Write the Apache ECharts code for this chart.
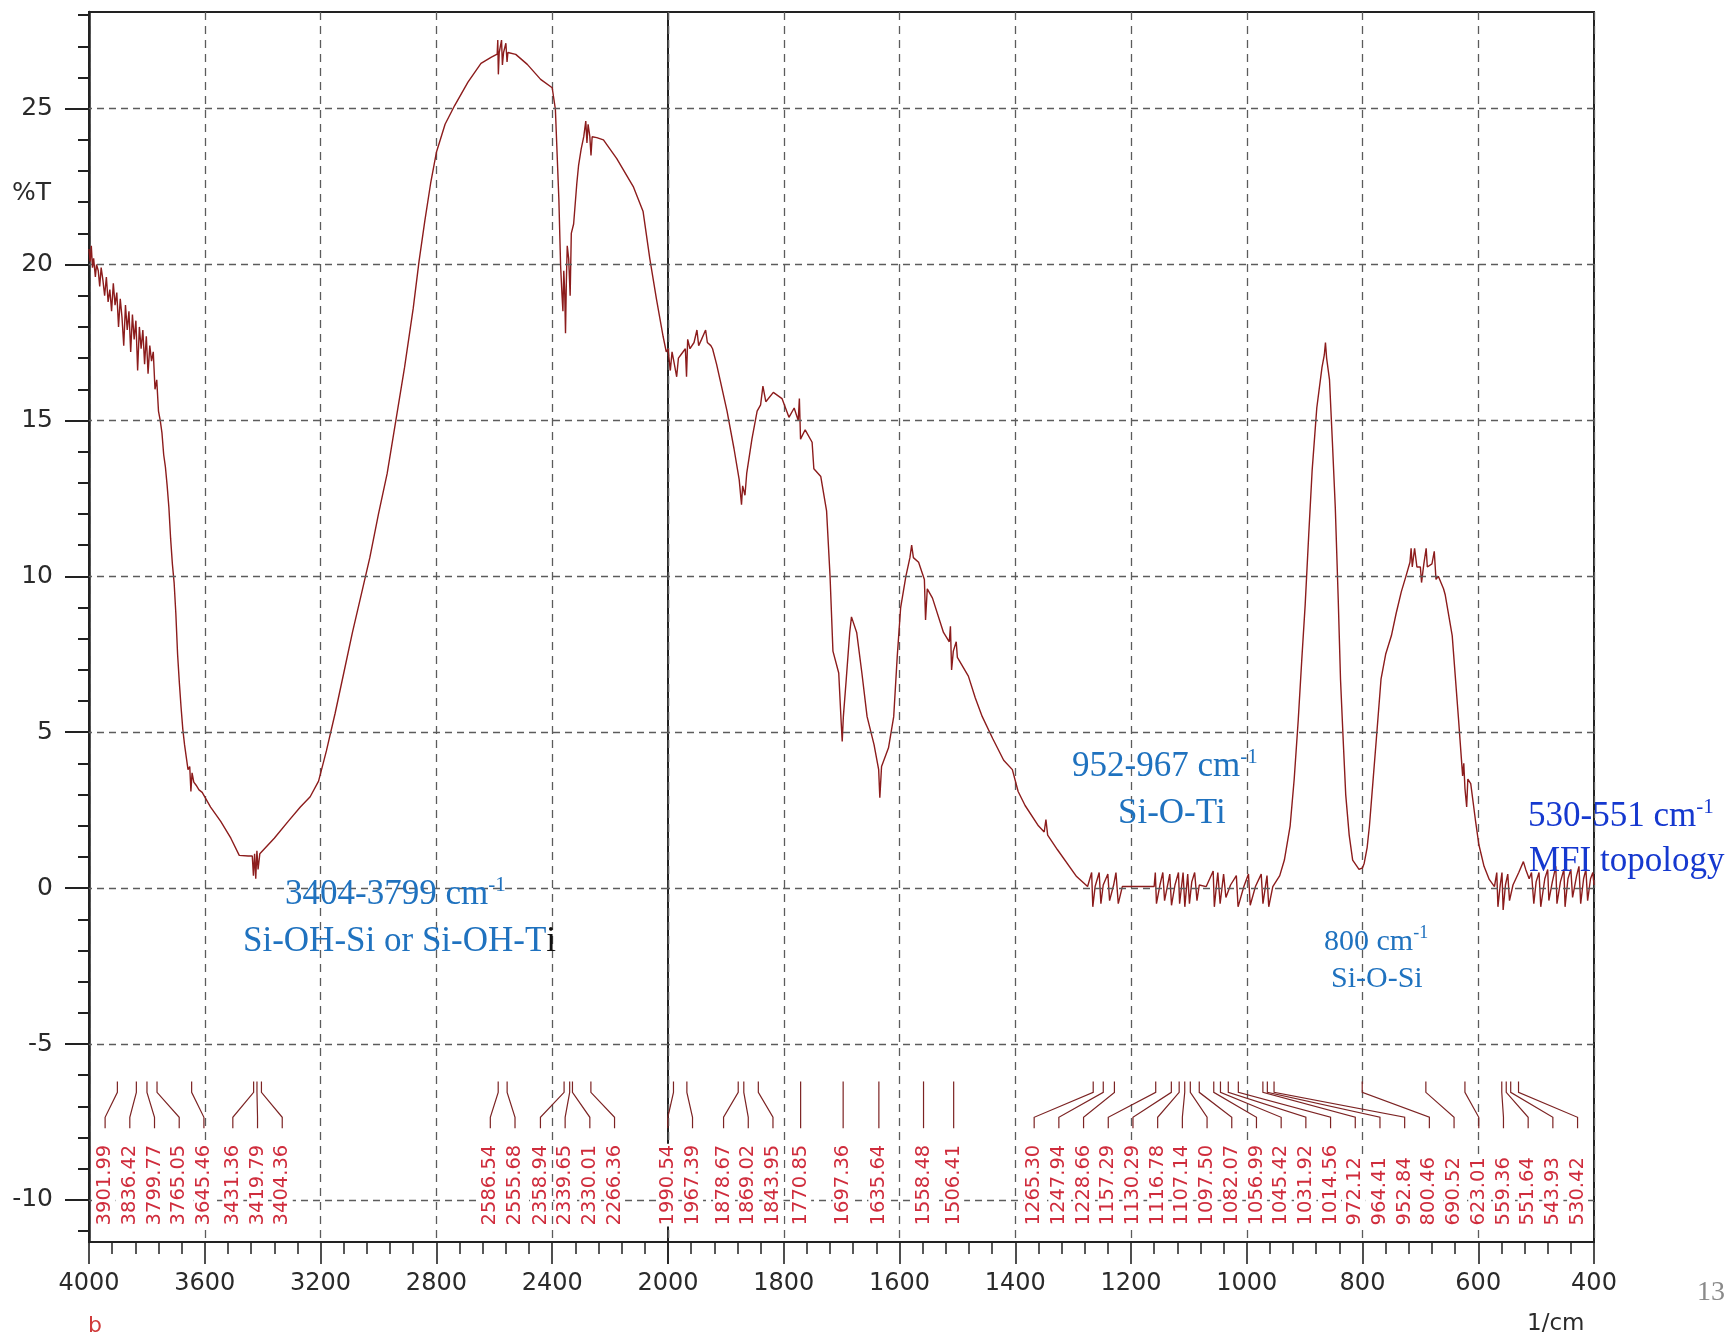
<!DOCTYPE html>
<html>
<head>
<meta charset="utf-8">
<script src="https://cdn.jsdelivr.net/npm/echarts@6/dist/echarts.min.js"></script>
<style>
  html, body { margin: 0; padding: 0; background: #ffffff; }
  #chart { width: 1736px; height: 1338px; }
</style>
</head>
<body>
<div id="chart"></div>
<script>
// FTIR transmittance spectrum, [wavenumber (1/cm), %T], high to low wavenumber
const SPECTRUM = [
  [4000, 20.5], [3996, 20.1], [3992, 20.6], [3988, 19.9], [3984, 20.2], [3978, 19.6], [3974, 20.0],
  [3968, 19.8], [3963, 19.3], [3958, 19.9], [3952, 19.5], [3946, 19.0], [3940, 19.6], [3934, 18.8],
  [3928, 19.2], [3922, 18.5], [3916, 19.4], [3910, 18.7], [3904, 19.1], [3898, 18.0], [3892, 18.9],
  [3886, 18.3], [3880, 17.4], [3874, 18.7], [3868, 17.9], [3862, 18.5], [3856, 17.2], [3850, 18.4],
  [3844, 17.6], [3838, 18.2], [3832, 16.6], [3826, 18.0], [3820, 17.3], [3814, 17.9], [3808, 16.8],
  [3802, 17.7], [3796, 16.5], [3790, 17.4], [3784, 16.9], [3778, 17.2], [3772, 16.0], [3766, 16.3],
  [3760, 15.3], [3754, 15.0], [3748, 14.6], [3742, 13.9], [3736, 13.5], [3730, 12.9], [3724, 12.2],
  [3718, 11.2], [3712, 10.4], [3706, 9.8], [3700, 8.8], [3694, 7.5], [3688, 6.6], [3682, 5.8],
  [3676, 5.1], [3670, 4.6], [3664, 4.2], [3658, 3.8], [3652, 3.9], [3648, 3.1], [3644, 3.7],
  [3638, 3.4], [3630, 3.3], [3620, 3.15], [3609, 3.07], [3580, 2.6], [3545, 2.14], [3510, 1.6],
  [3481, 1.05], [3450, 1.03], [3436, 1.03], [3432, 0.4], [3428, 1.1], [3424, 0.3], [3420, 1.2],
  [3416, 0.6], [3410, 1.1], [3405, 1.14], [3360, 1.6], [3312, 2.14], [3270, 2.6], [3236, 2.93],
  [3207, 3.43], [3180, 4.4], [3150, 5.6], [3120, 6.9], [3090, 8.2], [3060, 9.4], [3030, 10.6],
  [3000, 12.0], [2970, 13.3], [2940, 15.0], [2910, 16.7], [2880, 18.6], [2860, 20.1], [2840, 21.4],
  [2820, 22.6], [2800, 23.6], [2770, 24.5], [2737, 25.1], [2691, 25.85], [2646, 26.45], [2610, 26.65],
  [2590, 26.75], [2588, 27.2], [2586, 26.1], [2583, 26.8], [2575, 27.2], [2572, 26.4], [2568, 26.8],
  [2560, 27.1], [2556, 26.5], [2553, 26.8], [2526, 26.74], [2486, 26.42], [2440, 25.94], [2400, 25.67],
  [2389, 24.98], [2377, 22.1], [2371, 19.97], [2366, 19.0], [2363, 18.5], [2360, 19.8], [2357, 19.2],
  [2354, 17.8], [2351, 19.5], [2348, 20.6], [2343, 20.18], [2338, 19.0], [2334, 21.0], [2326, 21.3],
  [2315, 22.6], [2309, 23.17], [2300, 23.7], [2291, 24.1], [2284, 24.6], [2280, 23.9], [2276, 24.5],
  [2270, 24.1], [2266, 23.5], [2262, 24.1], [2246, 24.07], [2223, 24.0], [2177, 23.4], [2120, 22.5],
  [2086, 21.7], [2063, 20.2], [2040, 18.9], [2017, 17.7], [2006, 17.2], [2000, 17.3],
  [1996, 16.6], [1993, 17.2], [1990, 16.9], [1985, 16.4], [1982, 17.0], [1978, 17.1], [1970, 17.3],
  [1968, 16.4], [1966, 17.6], [1962, 17.3], [1955, 17.5], [1950, 17.9], [1947, 17.4], [1942, 17.6],
  [1935, 17.9], [1932, 17.5], [1926, 17.4], [1923, 17.3], [1916, 16.8], [1910, 16.3], [1898, 15.3],
  [1886, 14.1], [1877, 13.1], [1873, 12.3], [1871, 12.9], [1867, 12.6], [1864, 13.3], [1855, 14.4],
  [1846, 15.3], [1840, 15.5], [1836, 16.1], [1831, 15.6], [1818, 15.9], [1803, 15.7], [1791, 15.1],
  [1782, 15.4], [1775, 15.0], [1773, 15.7], [1771, 14.4], [1763, 14.7], [1751, 14.3], [1748, 13.45],
  [1736, 13.2], [1726, 12.1], [1720, 10.0], [1715, 7.6], [1705, 6.9], [1701, 5.4], [1699, 4.7],
  [1697, 5.5], [1692, 6.7], [1686, 8.2], [1683, 8.7], [1674, 8.2], [1665, 6.9], [1656, 5.5],
  [1644, 4.6], [1636, 3.8], [1634, 2.9], [1631, 3.9], [1619, 4.5], [1610, 5.5], [1604, 7.4],
  [1598, 9.0], [1589, 10.0], [1582, 10.6], [1579, 11.0], [1576, 10.6], [1567, 10.45], [1557, 9.9],
  [1555, 8.6], [1552, 9.6], [1543, 9.3], [1524, 8.2], [1514, 7.9], [1512, 8.4], [1510, 7.0],
  [1507, 7.6], [1502, 7.9], [1500, 7.4], [1481, 6.8], [1469, 6.1], [1457, 5.5], [1439, 4.8],
  [1420, 4.1], [1405, 3.8], [1395, 3.1], [1383, 2.65], [1360, 2.0], [1350, 1.8], [1347, 2.2],
  [1344, 1.7], [1327, 1.23], [1294, 0.37], [1275, 0.05], [1268, 0.5], [1266, -0.6], [1262, 0.05],
  [1255, 0.5], [1252, -0.5], [1248, 0.1], [1240, 0.45], [1237, -0.4], [1230, 0.1], [1226, 0.5],
  [1222, -0.5], [1215, 0.05], [1190, 0.05], [1160, 0.05], [1158, 0.5], [1156, -0.5], [1150, 0.1],
  [1145, 0.5], [1142, -0.4], [1133, 0.45], [1130, -0.55], [1124, 0.1], [1118, 0.5], [1116, -0.5],
  [1110, 0.5], [1107, -0.6], [1102, 0.45], [1099, -0.5], [1095, 0.2], [1090, 0.5], [1086, -0.4],
  [1082, 0.1], [1070, 0.05], [1058, 0.55], [1056, -0.6], [1050, 0.5], [1046, -0.5], [1040, 0.45],
  [1036, -0.3], [1028, 0.1], [1018, 0.4], [1015, -0.6], [1005, 0.05], [997, 0.45], [994, -0.55],
  [985, 0.05], [975, 0.45], [972, -0.5], [965, 0.4], [962, -0.6], [955, 0.05], [943, 0.4],
  [935, 0.9], [925, 2.0], [918, 3.5], [911, 5.4], [905, 7.3], [899, 9.1], [893, 11.3], [887, 13.4],
  [879, 15.4], [870, 16.7], [866, 17.1], [864, 17.5], [862, 17.0], [857, 16.3], [852, 14.3],
  [847, 12.2], [842, 9.3], [838, 6.7], [833, 4.6], [829, 3.0], [823, 1.7], [817, 0.9], [806, 0.6],
  [800, 0.65], [797, 0.8], [792, 1.3], [788, 2.0], [782, 3.4], [776, 4.8], [768, 6.7], [760, 7.5],
  [750, 8.1], [742, 8.8], [733, 9.5], [725, 10.0], [718, 10.45], [716, 10.9], [714, 10.3],
  [710, 10.9], [706, 10.3], [700, 10.3], [698, 9.8], [694, 10.4], [690, 10.9], [688, 10.3],
  [680, 10.4], [676, 10.8], [673, 9.9], [669, 10.0], [660, 9.6], [657, 9.4], [645, 8.1], [634, 5.4],
  [627, 3.6], [625, 4.0], [623, 3.2], [620, 2.6], [618, 3.5], [613, 3.35], [605, 2.2], [599, 1.4],
  [590, 0.7], [581, 0.28], [572, 0.05], [568, 0.5], [566, -0.6], [562, 0.1], [559, 0.5],
  [557, -0.7], [553, 0.1], [549, 0.45], [546, -0.4], [540, 0.1], [530, 0.5], [522, 0.85],
  [518, 0.6], [512, 0.3], [508, 0.5], [504, -0.5], [500, 0.2], [495, 0.5], [492, -0.6], [485, 0.3],
  [480, 0.6], [478, -0.4], [472, 0.2], [466, 0.7], [464, -0.5], [458, 0.2], [452, 0.6], [450, -0.6],
  [445, 0.3], [440, 0.6], [437, -0.3], [430, 0.4], [426, 0.7], [423, -0.5], [418, 0.3], [414, 0.6],
  [411, -0.4], [406, 0.3], [402, 0.5], [400, 0.1]
];

// Peak-pick table printed under the spectrum
const PEAKS = [
  '3901.99', '3836.42', '3799.77', '3765.05', '3645.46', '3431.36', '3419.79', '3404.36',
  '2586.54', '2555.68', '2358.94', '2339.65', '2330.01', '2266.36',
  '1990.54', '1967.39', '1878.67', '1869.02', '1843.95', '1770.85', '1697.36', '1635.64',
  '1558.48', '1506.41', '1265.30', '1247.94', '1228.66', '1157.29', '1130.29', '1116.78',
  '1107.14', '1097.50', '1082.07', '1056.99', '1045.42', '1031.92', '1014.56', '972.12',
  '964.41', '952.84', '800.46', '690.52', '623.01', '559.36', '551.64', '543.93', '530.42'
];

const Y_TICKS = [-10, -5, 0, 5, 10, 15, 20, 25];
const Y_RANGE = [-11.35, 28.1];
const X_RANGE_HIGH = [2000, 4000];
const X_RANGE_LOW = [400, 2000];

// Band assignments written onto the plot
const NOTES = [
  { range: '3404-3799 cm', label: 'Si-OH-Si or Si-OH-T', tail: 'i' },
  { range: '952-967 cm', label: 'Si-O-Ti' },
  { range: '800 cm', label: 'Si-O-Si' },
  { range: '530-551 cm', label: 'MFI topology' }
];

const minorY = [];
for (let v = Math.ceil(Y_RANGE[0]); v <= Math.floor(Y_RANGE[1]); v++) {
  if (v % 5 !== 0) minorY.push(v);
}

const AXIS_COLOR = '#222';
const GRID_DASH = { type: [7, 5], color: '#5c5c5c', width: 1.3 };
const LABEL_GAP = 24.7;
const LEAD = [-6.2, -6.55, -7.35, -7.7];
const LABEL_BASE = -10.85;

// Spread peak labels so they never overlap: clusters are centred on their peaks
function spreadLabels(xs) {
  const order = xs.map((x, i) => i).sort((a, b) => xs[a] - xs[b]);
  let clusters = order.map(i => ({ idx: [i], lo: xs[i], hi: xs[i] }));
  const place = c => { c.start = (c.lo + c.hi) / 2 - (c.idx.length - 1) * LABEL_GAP / 2; };
  clusters.forEach(place);
  let changed = true;
  while (changed) {
    changed = false;
    for (let k = 0; k < clusters.length - 1; k++) {
      const a = clusters[k], b = clusters[k + 1];
      if (a.start + a.idx.length * LABEL_GAP > b.start) {
        const c = { idx: a.idx.concat(b.idx), lo: Math.min(a.lo, b.lo), hi: Math.max(a.hi, b.hi) };
        place(c);
        clusters.splice(k, 2, c);
        changed = true;
        break;
      }
    }
  }
  const pos = [];
  clusters.forEach(c => c.idx.forEach((i, k) => { pos[i] = c.start + k * LABEL_GAP; }));
  return pos;
}

function peakRenderer(list) {
  return function (params, api) {
    const ctx = params.context;
    if (!ctx.pos) {
      ctx.pos = spreadLabels(list.map(p => api.coord([parseFloat(p), 0])[0]));
    }
    const i = params.dataIndex;
    const wn = api.value(0);
    const px = api.coord([wn, 0])[0];
    const lx = ctx.pos[i];
    const y = LEAD.map(v => api.coord([wn, v])[1]);
    const yText = api.coord([wn, LABEL_BASE])[1];
    return {
      type: 'group',
      children: [
        {
          type: 'polyline',
          shape: { points: [[px, y[0]], [px, y[1]], [lx, y[2]], [lx, y[3]]] },
          style: { stroke: '#7c2323', lineWidth: 1.2, fill: null }
        },
        {
          type: 'text',
          x: lx, y: yText,
          rotation: Math.PI / 2,
          style: {
            text: list[i],
            fontFamily: 'DejaVu Sans', fontSize: 19.5,
            fill: '#cf2c3c',
            align: 'left', verticalAlign: 'middle',
            backgroundColor: '#ffffff',
            padding: [1, 1, 0, 1]
          }
        }
      ]
    };
  };
}

const highPeaks = PEAKS.filter(p => parseFloat(p) >= 2000);
const lowPeaks = PEAKS.filter(p => parseFloat(p) < 2000);

function gridMarkLines() {
  return {
    silent: true,
    symbol: ['none', 'none'],
    label: { show: false },
    lineStyle: GRID_DASH,
    emphasis: { disabled: true },
    data: Y_TICKS.map(v => ({ yAxis: v }))
  };
}

function xAxis(gridIndex, range, interval, hideMax) {
  return {
    type: 'value', gridIndex, inverse: true,
    min: range[0], max: range[1], interval,
    axisLine: { show: true, onZero: false, lineStyle: { color: AXIS_COLOR, width: 2 } },
    axisTick: { show: true, length: 22, lineStyle: { color: AXIS_COLOR, width: 1.6 } },
    minorTick: { show: true, splitNumber: 5, length: 12, lineStyle: { color: AXIS_COLOR, width: 1.5 } },
    axisLabel: {
      margin: 30, fontFamily: 'DejaVu Sans', fontSize: 24, color: '#2a2a2a',
      showMaxLabel: !hideMax, showMinLabel: true,
      formatter: v => String(v)
    },
    splitLine: { show: true, lineStyle: { type: [8, 6], color: '#5c5c5c', width: 1.3 } },
    minorSplitLine: { show: false }
  };
}

const chart = echarts.init(document.getElementById('chart'), null, { renderer: 'canvas' });

const serif = '"Liberation Serif", "Times New Roman", serif';
const blue = '#1f72bf';
const deepBlue = '#1538cf';
function noteText(x, y, main, size, color) {
  return {
    type: 'text', x, y, z: 100,
    style: {
      text: '{n|' + main + '}{s|-1}',
      align: 'left', verticalAlign: 'middle',
      rich: {
        n: { fontFamily: serif, fontSize: size, lineHeight: size + 6, fill: color, color: color },
        s: { fontFamily: serif, fontSize: Math.round(size * 0.6), lineHeight: Math.round(size * 0.6),
             verticalAlign: 'top', fill: color, color: color }
      }
    }
  };
}
function plainText(x, y, text, size, color, family) {
  return {
    type: 'text', x, y, z: 100,
    style: { text, fontFamily: family || serif, fontSize: size, fill: color, align: 'left', verticalAlign: 'middle' }
  };
}

chart.setOption({
  animation: false,
  backgroundColor: '#ffffff',
  grid: [
    { left: 89, top: 12, width: 579, height: 1230, show: true, borderColor: AXIS_COLOR, borderWidth: 2, backgroundColor: 'transparent' },
    { left: 668, top: 12, width: 926, height: 1230, show: true, borderColor: AXIS_COLOR, borderWidth: 2, backgroundColor: 'transparent' }
  ],
  xAxis: [
    xAxis(0, X_RANGE_HIGH, 400, false),
    xAxis(1, X_RANGE_LOW, 200, true)
  ],
  yAxis: [
    {
      type: 'value', gridIndex: 0, min: Y_RANGE[0], max: Y_RANGE[1], position: 'left',
      axisLine: { show: true, onZero: false, lineStyle: { color: AXIS_COLOR, width: 2.5 } },
      axisTick: { show: true, length: 24, customValues: Y_TICKS, lineStyle: { color: AXIS_COLOR, width: 2 } },
      axisLabel: { show: true, customValues: Y_TICKS, margin: 36, fontFamily: 'DejaVu Sans', fontSize: 25, color: '#2a2a2a' },
      splitLine: { show: false }
    },
    {
      type: 'value', gridIndex: 0, min: Y_RANGE[0], max: Y_RANGE[1], position: 'left',
      axisLine: { show: false },
      axisTick: { show: true, length: 11, customValues: minorY, lineStyle: { color: AXIS_COLOR, width: 2 } },
      axisLabel: { show: false },
      splitLine: { show: false }
    },
    {
      type: 'value', gridIndex: 1, min: Y_RANGE[0], max: Y_RANGE[1],
      axisLine: { show: false }, axisTick: { show: false }, axisLabel: { show: false },
      splitLine: { show: false }
    }
  ],
  series: [
    {
      type: 'line', xAxisIndex: 0, yAxisIndex: 0, z: 3,
      data: SPECTRUM.filter(d => d[0] >= 2000),
      showSymbol: false, symbol: 'none', clip: true,
      lineStyle: { color: '#8c1c1c', width: 1.4 },
      emphasis: { disabled: true },
      markLine: gridMarkLines()
    },
    {
      type: 'line', xAxisIndex: 1, yAxisIndex: 2, z: 3,
      data: SPECTRUM.filter(d => d[0] <= 2000),
      showSymbol: false, symbol: 'none', clip: true,
      lineStyle: { color: '#8c1c1c', width: 1.4 },
      emphasis: { disabled: true },
      markLine: gridMarkLines()
    },
    {
      type: 'custom', xAxisIndex: 0, yAxisIndex: 0, z: 5, silent: true, clip: false,
      data: highPeaks.map(p => [parseFloat(p)]),
      encode: { x: 0 },
      renderItem: peakRenderer(highPeaks)
    },
    {
      type: 'custom', xAxisIndex: 1, yAxisIndex: 2, z: 5, silent: true, clip: false,
      data: lowPeaks.map(p => [parseFloat(p)]),
      encode: { x: 0 },
      renderItem: peakRenderer(lowPeaks)
    }
  ],
  graphic: [
    plainText(12, 193, '%T', 25, '#2a2a2a', 'DejaVu Sans'),
    plainText(88, 1326, 'b', 22, '#d03a3a', 'DejaVu Sans'),
    plainText(1527, 1324, '1/cm', 23, '#2a2a2a', 'DejaVu Sans'),
    plainText(1697, 1293, '13', 28, '#8a8a8a'),
    noteText(285, 895, NOTES[0].range, 35, blue),
    {
      type: 'text', x: 243, y: 942, z: 100,
      style: {
        text: '{a|' + NOTES[0].label + '}{b|' + NOTES[0].tail + '}',
        align: 'left', verticalAlign: 'middle',
        rich: {
          a: { fontFamily: serif, fontSize: 35, fill: blue, color: blue },
          b: { fontFamily: serif, fontSize: 35, fill: '#111111', color: '#111111' }
        }
      }
    },
    noteText(1072, 767, NOTES[1].range, 35, blue),
    plainText(1118, 814, NOTES[1].label, 35, blue),
    noteText(1324, 942, NOTES[2].range, 30, blue),
    plainText(1331, 979, NOTES[2].label, 30, blue),
    noteText(1528, 817, NOTES[3].range, 35, deepBlue),
    plainText(1529, 862, NOTES[3].label, 35, deepBlue)
  ]
});
</script>
</body>
</html>
